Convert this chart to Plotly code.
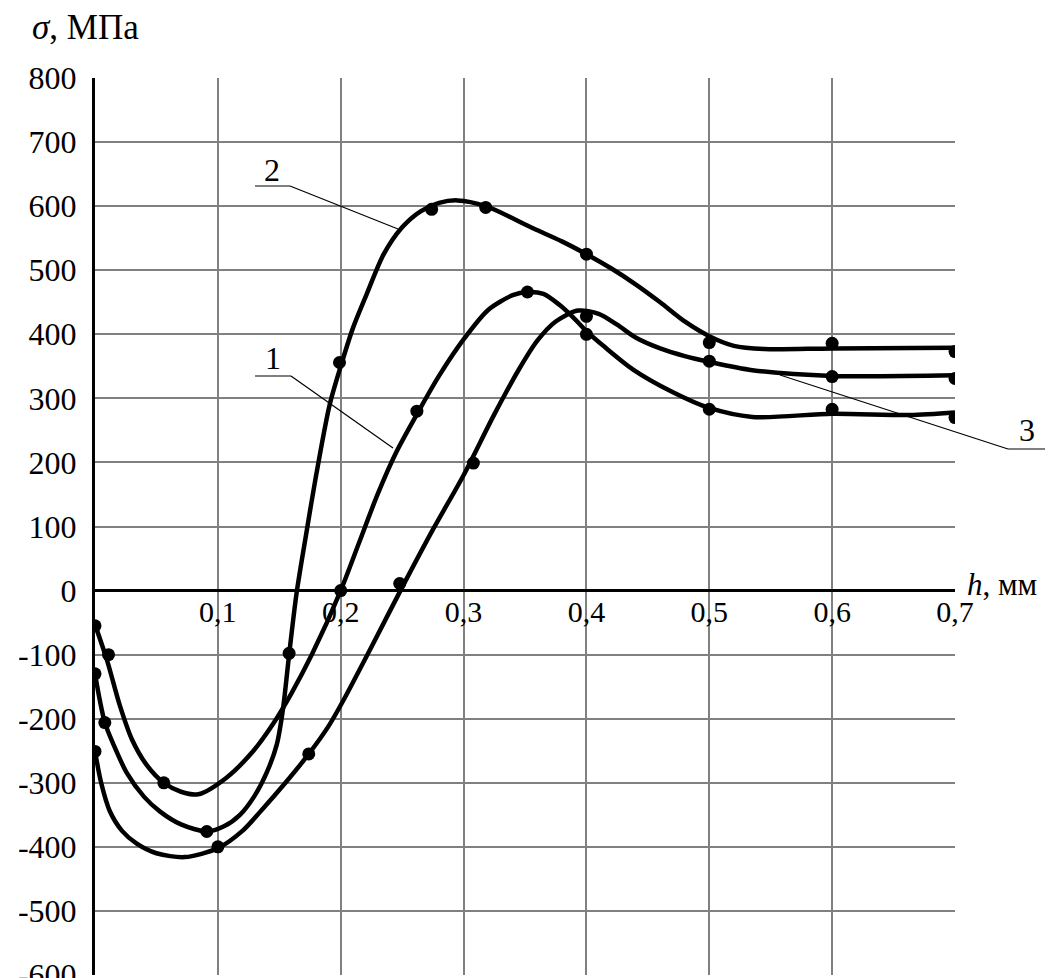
import plotly.graph_objects as go

# ---------------- data ----------------
# smooth curve traces (h in mm, sigma in MPa)
curve1_x = [0, 0.01, 0.02, 0.03, 0.042, 0.056, 0.07, 0.084, 0.107, 0.129, 0.145, 0.16, 0.177, 0.2, 0.215, 0.23, 0.245, 0.262, 0.28, 0.3, 0.32, 0.34, 0.352, 0.365, 0.378, 0.39, 0.4, 0.415, 0.438, 0.47, 0.5, 0.535, 0.6, 0.663, 0.7]
curve1_y = [-53, -110, -178, -232, -272, -300, -314, -318, -292, -250, -208, -160, -98, 0, 75, 150, 215, 275, 335, 392, 438, 461, 466, 463, 446, 425, 405, 380, 345, 310, 285, 271, 276, 274, 278]

curve2_x = [0, 0.004, 0.008, 0.015, 0.026, 0.04, 0.053, 0.07, 0.091, 0.105, 0.118, 0.13, 0.14, 0.148, 0.153, 0.158, 0.164, 0.171, 0.18, 0.191, 0.2, 0.21, 0.221, 0.235, 0.25, 0.265, 0.28, 0.295, 0.318, 0.357, 0.38, 0.4, 0.42, 0.44, 0.46, 0.48, 0.5, 0.52, 0.545, 0.6, 0.7]
curve2_y = [-130, -172, -206, -240, -285, -322, -345, -365, -376, -368, -350, -320, -283, -240, -185, -100, -5, 78, 180, 290, 350, 410, 462, 525, 567, 592, 605, 609, 600, 565, 545, 525, 503, 478, 450, 420, 397, 382, 377, 378, 379]

curve3_x = [0, 0.005, 0.012, 0.022, 0.034, 0.05, 0.073, 0.1, 0.12, 0.135, 0.155, 0.174, 0.19, 0.202, 0.225, 0.25, 0.275, 0.3, 0.325, 0.345, 0.36, 0.375, 0.393, 0.41, 0.425, 0.44, 0.46, 0.48, 0.5, 0.535, 0.6, 0.7]
curve3_y = [-251, -300, -344, -375, -395, -410, -416, -402, -375, -344, -300, -255, -212, -172, -88, 5, 95, 180, 275, 345, 390, 420, 437, 432, 415, 395, 378, 366, 357, 344, 335, 336]

# measured points (markers)
points1_x = [0, 0.011, 0.056, 0.2, 0.262, 0.352, 0.4, 0.5, 0.6, 0.7]
points1_y = [-55, -100, -300, 0, 280, 466, 400, 283, 283, 270]

points2_x = [0, 0.008, 0.091, 0.158, 0.199, 0.274, 0.318, 0.4, 0.5, 0.6, 0.7]
points2_y = [-130, -206, -376, -98, 356, 595, 598, 525, 387, 386, 373]

points3_x = [0, 0.1, 0.174, 0.248, 0.308, 0.4, 0.5, 0.6, 0.7]
points3_y = [-251, -400, -255, 11, 199, 428, 358, 334, 331]

x_tick_vals = [0.1, 0.2, 0.3, 0.4, 0.5, 0.6, 0.7]
x_tick_text = ["0,1", "0,2", "0,3", "0,4", "0,5", "0,6", "0,7"]
y_tick_vals = [800, 700, 600, 500, 400, 300, 200, 100, 0, -100, -200, -300, -400, -500, -600]
y_tick_text = ["800", "700", "600", "500", "400", "300", "200", "100", "0",
               "-100", "-200", "-300", "-400", "-500", "-600"]

curve_labels = ["1", "2", "3"]

# ---------------- figure ----------------
FONT = "Liberation Serif"
fig = go.Figure()

for cx, cy in [(curve1_x, curve1_y), (curve2_x, curve2_y), (curve3_x, curve3_y)]:
    fig.add_trace(go.Scatter(x=cx, y=cy, mode="lines",
                             line=dict(color="black", width=4.5, shape="spline", smoothing=0.8),
                             showlegend=False, hoverinfo="skip"))

for px, py in [(points1_x, points1_y), (points2_x, points2_y), (points3_x, points3_y)]:
    fig.add_trace(go.Scatter(x=px, y=py, mode="markers",
                             marker=dict(color="black", size=13),
                             showlegend=False))

# the page body adds an 8px offset; compensate so the plot lands where the reference has it
OFF = 8
W, H = 1056 - OFF, 978 - OFF
L, T = 95 - OFF, 78 - OFF
R = W - (955 - OFF)
B = H - (975 - OFF)
pw, ph = W - L - R, H - T - B


def px2paper(x, y):
    # x, y in screenshot pixels
    return (x - OFF - L) / pw, (H - B - (y - OFF)) / ph


# leader lines for curve labels (pixel geometry -> paper coords)
leaders = [
    # underline start, underline end, pointer end, text position
    ((255, 376), (291, 376), (393, 448), (273, 358)),
    ((255, 186), (290, 186), (398, 229), (272, 170)),
    ((1045, 449), (1008, 449), (780, 375), (1027, 430)),
]
for lab, (a, b, c, t) in zip(curve_labels, leaders):
    ax, ay = px2paper(*a)
    bx, by = px2paper(*b)
    cx_, cy_ = px2paper(*c)
    fig.add_shape(type="line", xref="paper", yref="paper", x0=ax, y0=ay, x1=bx, y1=by,
                  line=dict(color="black", width=1.2))
    fig.add_shape(type="line", xref="paper", yref="paper", x0=bx, y0=by, x1=cx_, y1=cy_,
                  line=dict(color="black", width=1.2))
    tx, ty = px2paper(*t)
    fig.add_annotation(x=tx, y=ty, xref="paper", yref="paper", text=lab, showarrow=False,
                       font=dict(family=FONT, size=32, color="black"),
                       xanchor="center", yanchor="middle")

# axis titles
sx, sy = px2paper(30, 28)
fig.add_annotation(x=sx, y=sy, xref="paper", yref="paper", text="<i>σ</i>, МПа",
                   showarrow=False, font=dict(family=FONT, size=35, color="black"),
                   xanchor="left", yanchor="middle")
hx, hy = px2paper(965, 584)
fig.add_annotation(x=hx, y=hy, xref="paper", yref="paper", text="<i>h</i>, мм",
                   showarrow=False, font=dict(family=FONT, size=31, color="black"),
                   xanchor="left", yanchor="middle")

fig.update_layout(
    width=W, height=H,
    margin=dict(l=L, r=R, t=T, b=B, autoexpand=False),
    paper_bgcolor="white", plot_bgcolor="white",
    showlegend=False,
    xaxis=dict(range=[0, 0.7], tickvals=x_tick_vals, ticktext=x_tick_text,
               showgrid=True, gridcolor="#808080", gridwidth=1.5,
               zeroline=False, showline=False, ticks="", automargin=False,
               anchor="free", position=600 / 1400, ticklabelstandoff=0,
               tickfont=dict(family=FONT, size=30, color="black")),
    yaxis=dict(range=[-600, 800], tickvals=y_tick_vals, ticktext=y_tick_text,
               showgrid=True, gridcolor="#808080", gridwidth=1.5,
               zeroline=True, zerolinecolor="black", zerolinewidth=3,
               showline=True, linecolor="black", linewidth=3, ticks="", automargin=False,
               ticklabelstandoff=9, ticklabeloverflow="allow",
               tickfont=dict(family=FONT, size=32, color="black")),
)

fig.write_html("out.html")
